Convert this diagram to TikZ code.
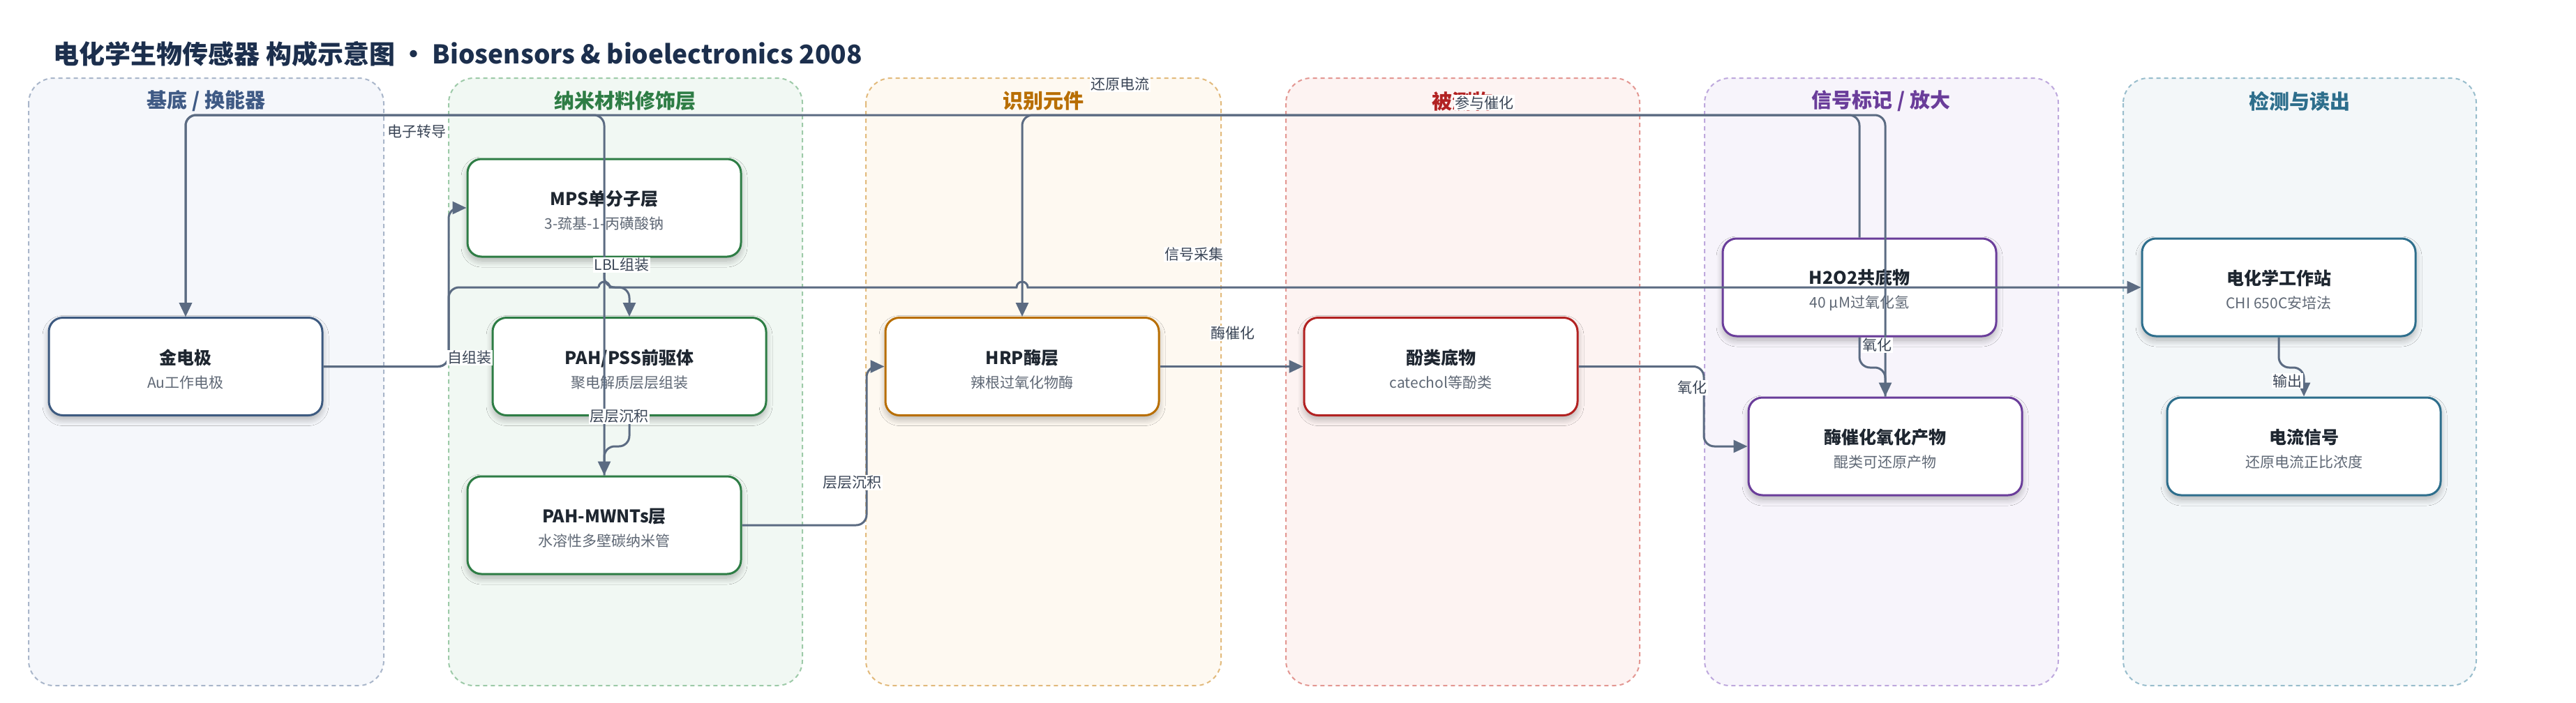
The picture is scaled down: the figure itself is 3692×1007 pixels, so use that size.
\documentclass[tikz,border=0pt]{standalone}
\usepackage{fontspec}
\setmainfont{Noto Sans CJK SC}
\usetikzlibrary{arrows.meta,shadows.blur}

\definecolor{titlec}{HTML}{1C2F4D}
\definecolor{edgec}{HTML}{5B6B82}
\definecolor{lblc}{HTML}{3A4556}
\definecolor{boxtc}{HTML}{1E2630}
\definecolor{boxsc}{HTML}{5F6875}
% column colours: title/border, dashed border, fill
\definecolor{cAt}{HTML}{3F5A85}\definecolor{cAd}{HTML}{A9B6CA}\definecolor{cAf}{HTML}{F5F7FB}
\definecolor{cBt}{HTML}{2E7D45}\definecolor{cBd}{HTML}{9DCAA8}\definecolor{cBf}{HTML}{F1F8F3}
\definecolor{cCt}{HTML}{B86E00}\definecolor{cCd}{HTML}{E2BA7C}\definecolor{cCf}{HTML}{FEF9F1}
\definecolor{cDt}{HTML}{B22222}\definecolor{cDd}{HTML}{E39792}\definecolor{cDf}{HTML}{FDF3F2}
\definecolor{cEt}{HTML}{6A3D9A}\definecolor{cEd}{HTML}{BEA8DD}\definecolor{cEf}{HTML}{F7F4FB}
\definecolor{cFt}{HTML}{2D6E8C}\definecolor{cFd}{HTML}{98BDCC}\definecolor{cFf}{HTML}{F3F7F9}
\definecolor{bA}{HTML}{3D5A80}

\newcommand\nodetitle[1]{{\fontsize{25}{34}\selectfont\bfseries\rule{0pt}{29pt}#1}}
\newcommand\nodesub[1]{{\fontsize{21}{34}\selectfont\color{boxsc}#1}}

\tikzset{
  column/.style 2 args={draw=#1, fill=#2, line width=2pt, dash pattern=on 6pt off 5pt, rounded corners=36pt},
  coltitle/.style={font=\fontsize{29}{29}\selectfont\bfseries, anchor=center},
  box/.style={draw=#1, fill=white, line width=3pt, rounded corners=20pt,
    minimum width=392pt, minimum height=140pt, align=center, text=boxtc,
    font=\fontsize{21}{34}\selectfont,
    blur shadow={shadow xshift=0pt, shadow yshift=-6pt, shadow blur radius=9pt, shadow opacity=28, shadow blur steps=10}},
  edge/.style={draw=edgec, line width=3pt, rounded corners=15pt, -{Triangle[width=18pt,length=20pt]}},
  lbl/.style={fill=white, inner xsep=1.5pt, inner ysep=1pt, text=lblc, font=\fontsize{21}{21}\selectfont}
}

\begin{document}
\begin{tikzpicture}[x=1pt,y=-1pt]
\useasboundingbox (0,0) rectangle (3692,1007);
\fill[white] (0,0) rectangle (3692,1007);

% title
\node[anchor=west, text=titlec, font=\fontsize{37}{37}\selectfont\bfseries] (title) at (73,77)
  {电化学生物传感器 构成示意图 • Biosensors \& bioelectronics 2008};

% columns
\path[column={cAd}{cAf}] (41,112) rectangle (550,983);
\path[column={cBd}{cBf}] (643,112) rectangle (1150,983);
\path[column={cCd}{cCf}] (1241,112) rectangle (1750,983);
\path[column={cDd}{cDf}] (1843,112) rectangle (2350,983);
\path[column={cEd}{cEf}] (2443,112) rectangle (2950,983);
\path[column={cFd}{cFf}] (3043,112) rectangle (3549,983);

\node[coltitle, text=cAt] (tA) at (295.5,145) {基底 / 换能器};
\node[coltitle, text=cBt] (tB) at (896,145) {纳米材料修饰层};
\node[coltitle, text=cCt] (tC) at (1495,145) {识别元件};
\node[coltitle, text=cDt] (tD) at (2096,145) {被测物};
\node[coltitle, text=cEt] (tE) at (2696,145) {信号标记 / 放大};
\node[coltitle, text=cFt] (tF) at (3296,145) {检测与读出};

% nodes
\node[box=bA] (gold) at (266,525.5) {\nodetitle{金电极}\\\nodesub{Au工作电极}};
\node[box=cBt] (mps) at (866,298) {\nodetitle{MPS单分子层}\\\nodesub{3-巯基-1-丙磺酸钠}};
\node[box=cBt] (pss) at (902,525.5) {\nodetitle{PAH/PSS前驱体}\\\nodesub{聚电解质层层组装}};
\node[box=cBt] (mwnt) at (866,753) {\nodetitle{PAH-MWNTs层}\\\nodesub{水溶性多壁碳纳米管}};
\node[box=cCt] (hrp) at (1465,525.5) {\nodetitle{HRP酶层}\\\nodesub{辣根过氧化物酶}};
\node[box=cDt] (phen) at (2065,525.5) {\nodetitle{酚类底物}\\\nodesub{catechol等酚类}};
\node[box=cEt] (h2o2) at (2665,412) {\nodetitle{H2O2共底物}\\\nodesub{40 µM过氧化氢}};
\node[box=cEt] (prod) at (2702,640) {\nodetitle{酶催化氧化产物}\\\nodesub{醌类可还原产物}};
\node[box=cFt] (station) at (3266,412) {\nodetitle{电化学工作站}\\\nodesub{CHI 650C安培法}};
\node[box=cFt] (signal) at (3302,640) {\nodetitle{电流信号}\\\nodesub{还原电流正比浓度}};

% routing helpers
\coordinate (bus) at (0,165);
\coordinate (sig) at (0,412);
\coordinate (midB) at (0,640);
\coordinate (midE) at (0,527);
\coordinate (jx) at (643,0);
\coordinate (mx) at (1242,0);
\coordinate (ox) at (2442,0);

% connectors
\draw[edge] (mwnt.north) -- (mwnt.north |- bus) -| (gold.north);
\draw[edge] (prod.north) -- (prod.north |- bus) -| (gold.north);
\draw[edge] (h2o2.north) -- (h2o2.north |- bus) -| (hrp.north);
\draw[edge] (gold.east) -| (jx |- mps.west) -- (mps.west);
\draw[edge] (gold.east) -| (jx |- sig) -- ([xshift=-8pt]mwnt.north |- sig)
   ([xshift=-8pt]mwnt.north |- sig) [sharp corners] arc[start angle=180, end angle=0, radius=8pt]
   -- ([xshift=-8pt]hrp.north |- sig) arc[start angle=180, end angle=0, radius=8pt]
   -- (station.west);
\draw[edge] (mps.south) -- (mps.south |- sig) -| (pss.north);
\draw[edge] (pss.south) -- (pss.south |- midB) -| (mwnt.north);
\draw[edge] (mwnt.east) -| (mx |- hrp.west) -- (hrp.west);
\draw[edge] (hrp.east) -- (phen.west);
\draw[edge] (phen.east) -| (ox |- prod.west) -- (prod.west);
\draw[edge] (h2o2.south) -- (h2o2.south |- midE) -| (prod.north);
\draw[edge] (station.south) -- (station.south |- midE) -| (signal.north);

% connector labels
\node[lbl] (l1) at (597,189) {电子转导};
\node[lbl] (l2) at (1605,121) {还原电流};
\node[lbl] (l3) at (2127,147) {参与催化};
\node[lbl] (l4) at (673,513) {自组装};
\node[lbl] (l5) at (1711,365) {信号采集};
\node[lbl] (l6) at (891,380) {LBL组装};
\node[lbl] (l7) at (887,597) {层层沉积};
\node[lbl] (l8) at (1221,692) {层层沉积};
\node[lbl] (l9) at (1767,478) {酶催化};
\node[lbl] (l10) at (2425,556) {氧化};
\node[lbl] (l11) at (2690,495) {氧化};
\node[lbl] (l12) at (3278,546) {输出};
\end{tikzpicture}
\end{document}
